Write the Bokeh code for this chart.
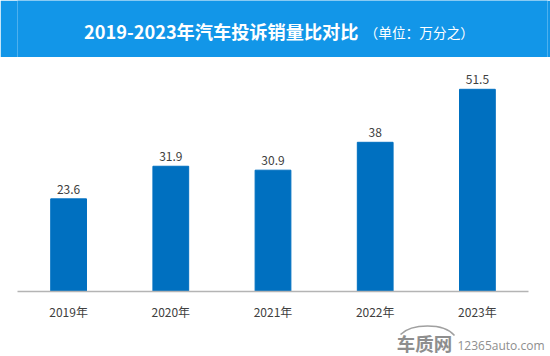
from bokeh.plotting import figure
from bokeh.models import Range1d, ColumnDataSource, LabelSet, Label, FixedTicker
from bokeh.layouts import column
from bokeh.core.properties import value
from bokeh.embed import file_html
from bokeh.resources import INLINE

# ---- data ----
years = ["2019年", "2020年", "2021年", "2022年", "2023年"]
ratios = [23.6, 31.9, 30.9, 38, 51.5]
title_main = "2019-2023年汽车投诉销量比对比"
title_unit = "（单位：万分之）"
brand = "车质网"
site = "12365auto.com"

FONT = "Noto Sans CJK SC"
W = 550
BL, BR = 17, 3          # shared left/right borders (column aligns plot frames)
CAT_PX = 102.2          # pixel width of one category slot
FRAME_W = W - BL - BR

def deco(h, bg):
    fig = figure(width=W, height=h, output_backend="svg", toolbar_location=None,
                 x_range=Range1d(BL, W - BR), y_range=Range1d(h, 0),
                 x_axis_location=None, y_axis_location=None, title=None,
                 min_border=0, min_border_left=BL, min_border_right=BR,
                 min_border_top=0, min_border_bottom=0,
                 background_fill_color=bg, border_fill_color=bg)
    fig.xgrid.visible = False
    fig.ygrid.visible = False
    fig.outline_line_color = None
    return fig

# ---- header ----
hdr = deco(57, "#1296e8")
hdr.add_layout(Label(x=358, y=30.5, text=title_main, text_font=FONT,
                     text_font_size="18.2px", text_font_style="bold", text_color="white",
                     text_baseline="middle", text_align="right"))
hdr.add_layout(Label(x=364, y=31.5, text=title_unit, text_font=FONT,
                     text_font_size="13.7px", text_color="white",
                     text_baseline="middle", text_align="left"))

# ---- orange strip ----
strip = deco(3, "#f0851a")

# ---- main chart ----
pos = [i + 0.5 for i in range(len(years))]
src = ColumnDataSource(dict(x=pos, top=ratios, label=[f"{v:g}" for v in ratios]))
p = figure(width=W, height=262, output_backend="svg", toolbar_location=None,
           x_range=Range1d(0, FRAME_W / CAT_PX), y_range=Range1d(0, 56.8),
           y_axis_location=None,
           min_border_left=BL, min_border_right=BR, min_border_top=8, min_border_bottom=25,
           background_fill_color="white", border_fill_color="white")
p.xgrid.visible = False
p.ygrid.visible = False
p.outline_line_color = None
p.vbar(x="x", top="top", width=0.35, source=src, color="#0070c0")
p.add_layout(LabelSet(x="x", y="top", text="label", source=src, y_offset=5,
                      text_align="center", text_baseline="alphabetic",
                      text_font=value(FONT), text_font_size="12px",
                      text_color="#404040"))
ax = p.xaxis[0]
ax.bounds = (0, len(years))
ax.ticker = FixedTicker(ticks=pos)
ax.major_label_overrides = {x: y for x, y in zip(pos, years)}
ax.axis_line_color = "#b4b4b4"
ax.axis_line_width = 1.5
ax.major_tick_line_color = None
ax.minor_tick_line_color = None
ax.major_label_standoff = 5
ax.major_label_text_font = FONT
ax.major_label_text_font_size = "12px"
ax.major_label_text_color = "#404040"

# ---- footer (watermark) ----
ftr = deco(34, "white")
ftr.bezier(x0=[400], y0=[12], x1=[454], y1=[13], cx0=[411], cy0=[1], cx1=[443], cy1=[0],
           line_color="#a0a0a0", line_width=1.5)
ftr.add_layout(Label(x=424, y=20, text=brand, text_font=FONT,
                     text_font_size="18.5px", text_font_style="bold", text_color="#8e8e8e",
                     text_baseline="middle", text_align="center"))
ftr.add_layout(Label(x=457, y=23, text=site, text_font="Open Sans",
                     text_font_size="12px", text_color="#8e8e8e",
                     text_baseline="middle", text_align="left"))

layout = column(hdr, strip, p, ftr, spacing=0)
open("out.html", "w").write(file_html(layout, INLINE))
